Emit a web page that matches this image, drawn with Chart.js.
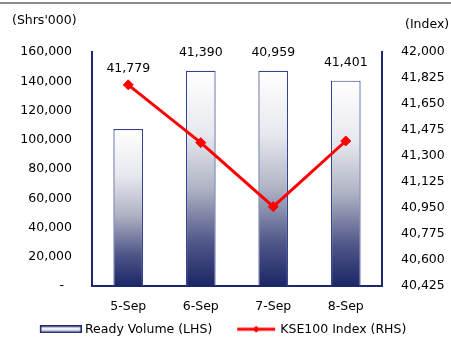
<!DOCTYPE html>
<html>
<head>
<meta charset="utf-8">
<script src="https://cdn.jsdelivr.net/npm/chart.js@4"></script>
<style>
  html, body { margin: 0; padding: 0; background: #ffffff; }
  #wrap { width: 451px; height: 338px; position: relative; }
</style>
</head>
<body>
<div id="wrap"><canvas id="kseChart" width="451" height="338"></canvas></div>
<script>
// daily market data
const days = ['5-Sep', '6-Sep', '7-Sep', '8-Sep'];
const readyVolume = [107400, 147200, 147200, 140400];   // shares '000
const kse100 = [41779, 41390, 40959, 41401];             // index points

const volumeTicks = { min: 0, max: 160000, step: 20000 };
const indexTicks = { min: 40425, max: 42000, step: 175 };

const NAVY = '#1b2a6b';
const RED = '#ff0000';
const FONT = 'DejaVu Sans';
const fmt = n => n.toLocaleString('en-US');

// vertical white -> navy fill, one gradient per bar
function barFill(ctx) {
    const chart = ctx.chart;
    const area = chart.chartArea;
    if (!area) return '#c0c3cf';
    const top = chart.scales.y.getPixelForValue(readyVolume[ctx.dataIndex]);
    const g = chart.ctx.createLinearGradient(0, top, 0, area.bottom);
    g.addColorStop(0, '#ffffff');
    g.addColorStop(0.3, '#e7e8ee');
    g.addColorStop(0.55, '#aeb2c3');
    g.addColorStop(0.8, '#4f5688');
    g.addColorStop(1, '#1c2666');
    return g;
}

// legend symbols: 64px wide canvases, the visible part sits at the right end
// so the gap to the previous entry stays wide while the symbol hugs its text
function barSwatch() {
    const c = document.createElement('canvas');
    c.width = 64; c.height = 8;
    const x = c.getContext('2d');
    const g = x.createLinearGradient(0, 0, 0, 8);
    g.addColorStop(0, '#8a8fb0');
    g.addColorStop(0.45, '#ffffff');
    g.addColorStop(1, '#6a7098');
    x.fillStyle = g;
    x.fillRect(22, 0, 42, 8);
    x.strokeStyle = NAVY;
    x.lineWidth = 1.5;
    x.strokeRect(22.75, 0.75, 40.5, 6.5);
    return c;
}

function lineSwatch() {
    const c = document.createElement('canvas');
    c.width = 64; c.height = 8;
    const x = c.getContext('2d');
    x.strokeStyle = RED;
    x.lineWidth = 3;
    x.beginPath(); x.moveTo(24, 4); x.lineTo(62, 4); x.stroke();
    x.fillStyle = RED;
    x.beginPath();
    x.moveTo(43, 0.5); x.lineTo(46.5, 4); x.lineTo(43, 7.5); x.lineTo(39.5, 4);
    x.closePath(); x.fill();
    return c;
}

// top rule, unit captions and the value labels above each day
const extras = {
    id: 'extras',
    beforeDraw(chart) {
        const c = chart.ctx;
        c.save();
        c.strokeStyle = '#8c8c8c';
        c.lineWidth = 2;
        c.beginPath(); c.moveTo(0, 3); c.lineTo(chart.width, 3); c.stroke();
        c.fillStyle = '#000000';
        c.font = '12.5px "' + FONT + '"';
        c.textBaseline = 'middle';
        c.textAlign = 'left';
        c.fillText("(Shrs'000)", 12, 21);
        c.fillText('(Index)', 405, 25);
        c.restore();
    },
    afterDatasetsDraw(chart) {
        const c = chart.ctx;
        const xs = chart.scales.x, ys = chart.scales.y, ys1 = chart.scales.y1;
        c.save();
        c.fillStyle = '#000000';
        c.font = '12.5px "' + FONT + '"';
        c.textAlign = 'center';
        c.textBaseline = 'middle';
        kse100.forEach((v, i) => {
            const barTop = ys.getPixelForValue(readyVolume[i]);
            const pt = ys1.getPixelForValue(v);
            const y = Math.min(barTop - 18, pt - 16);
            c.fillText(fmt(v), xs.getPixelForValue(i), y);
        });
        c.restore();
    }
};

const swatches = [barSwatch(), lineSwatch()];

new Chart(document.getElementById('kseChart'), {
    type: 'bar',
    data: {
        labels: days,
        datasets: [{
            label: 'Ready Volume (LHS)',
            data: readyVolume,
            yAxisID: 'y',
            order: 2,
            backgroundColor: barFill,
            borderColor: '#34448f',
            borderWidth: 1.2,
            borderSkipped: 'bottom',
            categoryPercentage: 1,
            barPercentage: 0.41
        }, {
            type: 'line',
            label: 'KSE100 Index (RHS)',
            data: kse100,
            yAxisID: 'y1',
            order: 1,
            borderColor: RED,
            backgroundColor: RED,
            borderWidth: 3,
            pointStyle: 'rectRot',
            pointRadius: 5,
            pointBorderWidth: 1,
            pointHoverRadius: 5,
            tension: 0
        }]
    },
    options: {
        responsive: false,
        animation: false,
        layout: { padding: { top: 52, left: 17, bottom: 0 } },
        plugins: {
            tooltip: { enabled: false },
            legend: {
                position: 'bottom',
                align: 'start',
                maxHeight: 19,
                labels: {
                    usePointStyle: true,
                    pointStyleWidth: 57.75,
                    padding: 4,
                    color: '#000000',
                    font: { family: FONT, size: 12.5 },
                    generateLabels: chart => chart.data.datasets.map((ds, i) => ({
                        text: ds.label,
                        pointStyle: swatches[i],
                        fillStyle: 'transparent',
                        strokeStyle: 'transparent',
                        lineWidth: 0,
                        datasetIndex: i,
                        hidden: false
                    }))
                }
            }
        },
        scales: {
            x: {
                grid: { display: false, drawTicks: false },
                border: { display: true, color: NAVY, width: 2 },
                ticks: { color: '#000000', padding: 13, font: { family: FONT, size: 12.5 } },
                afterFit: s => { s.height = 33; }
            },
            y: {
                position: 'left',
                min: volumeTicks.min,
                max: volumeTicks.max,
                grid: { display: false, drawTicks: false },
                border: { display: true, color: NAVY, width: 2 },
                ticks: {
                    stepSize: volumeTicks.step,
                    padding: 20,
                    color: '#000000',
                    font: { family: FONT, size: 12.5 },
                    callback: v => v === 0 ? '-  ' : fmt(v)
                },
                afterFit: s => { s.width = 75; }
            },
            y1: {
                position: 'right',
                min: indexTicks.min,
                max: indexTicks.max,
                grid: { display: false, drawTicks: false },
                border: { display: true, color: NAVY, width: 2 },
                ticks: {
                    stepSize: indexTicks.step,
                    padding: 19,
                    color: '#000000',
                    font: { family: FONT, size: 12.5 },
                    callback: v => fmt(v)
                },
                afterFit: s => { s.width = 69; }
            }
        }
    },
    plugins: [extras]
});
</script>
</body>
</html>
